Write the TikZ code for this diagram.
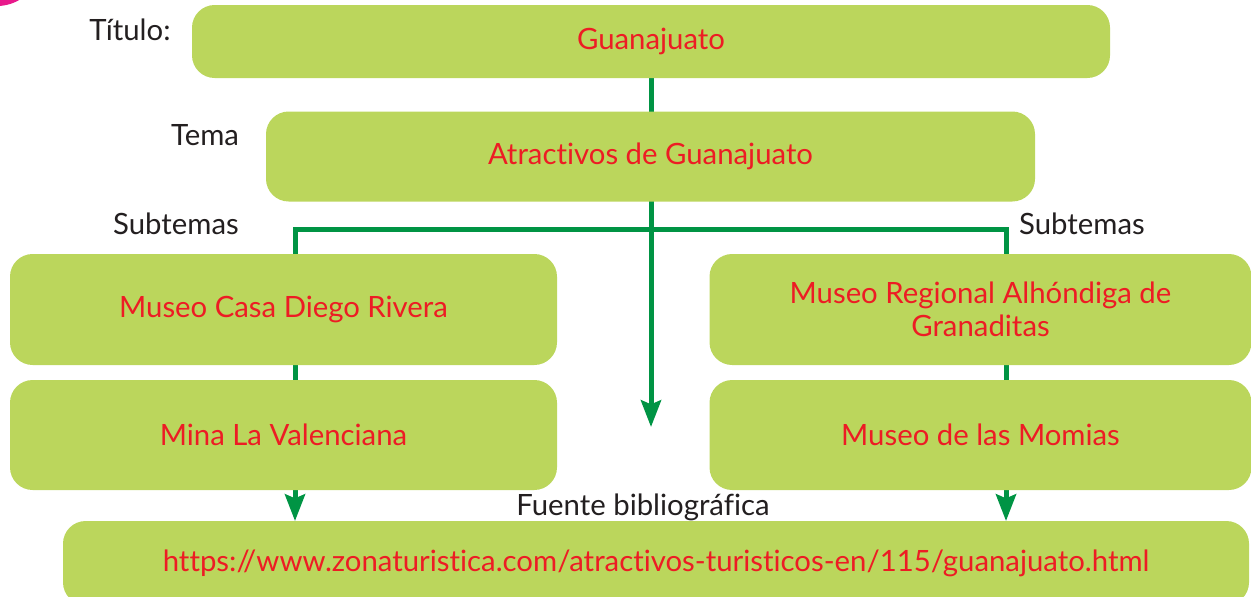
\documentclass[tikz,border=0pt]{standalone}
\usepackage{fontspec}
\setmainfont{Lato}[Ligatures=NoCommon]
\usetikzlibrary{arrows.meta,backgrounds}
\definecolor{boxgreen}{HTML}{BBD65C}
\definecolor{textred}{HTML}{ED1C24}
\definecolor{linegreen}{HTML}{009444}
\definecolor{labelgray}{HTML}{231F20}
\definecolor{pinkmark}{HTML}{E8198B}
\tikzset{
  box/.style={fill=boxgreen, rounded corners=17pt, inner sep=0pt, text=textred,
    font=\fontsize{22}{25}\selectfont, align=center},
  lbl/.style={text=labelgray, font=\fontsize{22}{25}\selectfont, inner sep=0pt},
  conn/.style={draw=linegreen, line width=3.75pt, -{Stealth[length=20pt,width=15pt,inset=3pt]}}
}
\begin{document}
\begin{tikzpicture}[x=0.75pt,y=-0.75pt]
\useasboundingbox (0,0) rectangle (1251,596);
\fill[pinkmark] (-3,-38) circle[radius=33pt];
% boxes
\node[box, minimum width=688.5pt, minimum height=54.75pt] (title) at (651,41.5) {Guanajuato};
\node[box, minimum width=576.75pt, minimum height=67.5pt] (tema) at (650.5,156.5) {Atractivos de Guanajuato};
\node[box, minimum width=410.25pt, minimum height=83.25pt] (l1) at (283.5,309.5) {Museo Casa Diego Rivera};
\node[box, minimum width=410.25pt, minimum height=82.5pt] (l2) at (283.5,435) {Mina La Valenciana};
\node[box, minimum width=406.5pt, minimum height=83.25pt] (r1) at (980.5,309.5) {Museo Regional Alhóndiga de\\Granaditas};
\node[box, minimum width=406.5pt, minimum height=82.5pt] (r2) at (980.5,435) {Museo de las Momias};
\node[box, minimum width=889.5pt, minimum height=63pt] (fuente) at (656,563) {https://www.zonaturistica.com/atractivos-turisticos-en/115/guanajuato.html};
% labels
\node[lbl] (ltitulo) at (130,30) {Título:};
\node[lbl] (ltema) at (205,135) {Tema};
\node[lbl] (lsubl) at (176,224) {Subtemas};
\node[lbl] (lsubr) at (1082,224) {Subtemas};
\node[lbl] (lfuente) at (643,507) {Fuente bibliográfica};
% connector coordinates
\coordinate (jn) at (651,229);
\coordinate (midend) at (651,427);
\coordinate (leftend) at (295,521);
\coordinate (rightend) at (1006,521);
\begin{pgfonlayer}{background}
\draw[conn] (title.south) -- (midend);
\draw[conn] (jn) -| (leftend);
\draw[conn] (jn) -| (rightend);
\end{pgfonlayer}
\end{tikzpicture}
\end{document}
